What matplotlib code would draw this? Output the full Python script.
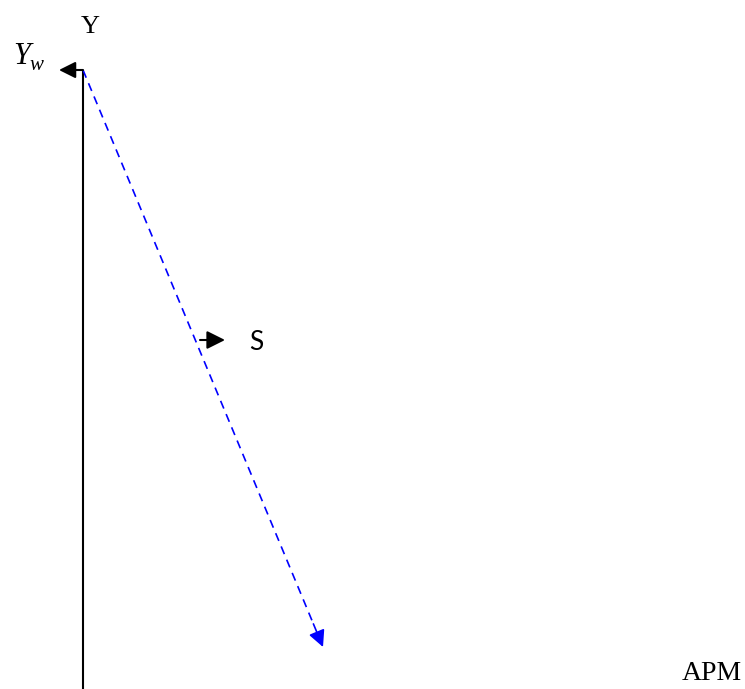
import matplotlib.pyplot as plt

# diagram geometry, in picture pixels (x right, y down)
axis_x = [83, 83]
axis_y = [70, 689]
yw_arrow = [(83, 70), (59, 70)]
path_start = (83, 70)
path_end = (323, 647)
s_arrow = [(200, 340), (225, 340)]

labels = ["Y", "Y", "w", "S", "APM"]
label_pos = [(90, 27), (22, 57), (36, 66), (256, 342), (712, 674)]
label_size = [19, 22, 15, 19, 20]
label_style = ["normal", "italic", "italic", "normal", "normal"]
label_font = ["Liberation Serif", "Liberation Serif", "Liberation Serif", "Lato", "Liberation Serif"]

plt.rcParams["font.family"] = ["Liberation Serif", "DejaVu Serif"]

fig = plt.figure(figsize=(7.45, 6.89), dpi=100)
ax = fig.add_axes([0, 0, 1, 1])
ax.set_xlim(0, 745)
ax.set_ylim(689, 0)
ax.axis("off")

head = "-|>,head_length=1.0,head_width=0.5"

# vertical axis
ax.plot(axis_x, axis_y, color="black", linewidth=1.5, solid_capstyle="butt")

# arrow to the left at the top
ax.annotate("", xy=yw_arrow[1], xytext=yw_arrow[0],
            arrowprops=dict(arrowstyle=head, color="black", lw=1.5, shrinkA=0, shrinkB=0))

# blue dashed path with a solid head
frac = 0.96
mid = (path_start[0] + (path_end[0] - path_start[0]) * frac,
       path_start[1] + (path_end[1] - path_start[1]) * frac)
ax.plot([path_start[0], mid[0]], [path_start[1], mid[1]], color="blue",
        linewidth=1.2, linestyle=(0, (5, 3.6)))
ax.annotate("", xy=path_end, xytext=mid,
            arrowprops=dict(arrowstyle=head, color="blue", lw=1.2, shrinkA=0, shrinkB=0))

# small arrow at S
ax.annotate("", xy=s_arrow[1], xytext=s_arrow[0],
            arrowprops=dict(arrowstyle="-|>,head_length=1.1,head_width=0.55",
                            color="black", lw=1.5, shrinkA=0, shrinkB=0))

for text, (x, y), size, style, font in zip(labels, label_pos, label_size, label_style, label_font):
    ax.text(x, y, text, fontsize=size, style=style, family=[font, "DejaVu Sans"],
            ha="center", va="center")

fig.savefig("out.png", dpi=100)
